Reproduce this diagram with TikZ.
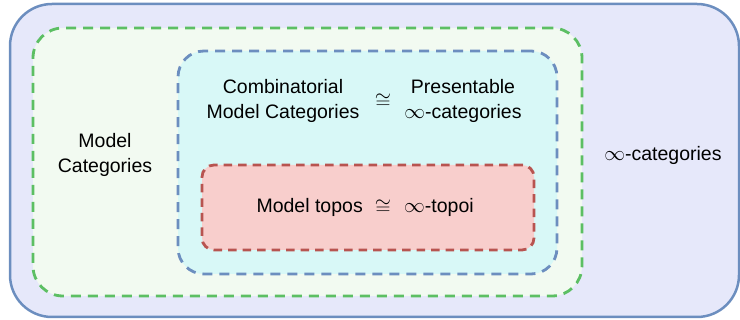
\documentclass[tikz,border=0pt]{standalone}
\usepackage{fontspec}
\setmainfont{Liberation Sans}
\definecolor{outerfill}{HTML}{E6E8FA}
\definecolor{outerline}{HTML}{6C8EBF}
\definecolor{greenfill}{HTML}{F2FAF1}
\definecolor{greenline}{HTML}{5CBF63}
\definecolor{cyanfill}{HTML}{D8F8F7}
\definecolor{blueline}{HTML}{6C8EBF}
\definecolor{redfill}{HTML}{F8CECC}
\definecolor{redline}{HTML}{B85450}
\tikzset{
  region/.style={rectangle, inner sep=0pt, outer sep=0pt},
  dashedregion/.style={region, line width=2.8pt, dash pattern=on 10pt off 7pt},
  label/.style={font=\fontsize{19.5}{25}\selectfont, align=center, inner sep=0pt}
}
\begin{document}
\begin{tikzpicture}[x=1pt,y=-1pt]
\useasboundingbox (0,0) rectangle (740,320);
% nested regions, outermost first
\node[region, draw=outerline, fill=outerfill, line width=2.5pt, rounded corners=42pt,
      minimum width=729pt, minimum height=313pt] (inf) at (374.5,160.5) {};
\node[dashedregion, draw=greenline, fill=greenfill, rounded corners=30pt,
      minimum width=549pt, minimum height=268pt] (model) at (307.5,162) {};
\node[dashedregion, draw=blueline, fill=cyanfill, rounded corners=26pt,
      minimum width=379pt, minimum height=223pt] (comb) at (367.5,162.5) {};
\node[dashedregion, draw=redline, fill=redfill, rounded corners=12pt,
      dash pattern=on 8.5pt off 6pt,
      minimum width=332pt, minimum height=85pt] (topos) at (368,207.5) {};
% labels
\node[label] (modeltxt) at (105,155) {Model\\Categories};
\node[label] (combtxt) at (283,101) {Combinatorial\\Model Categories};
\node[label] (iso1) at (383,101) {$\cong$};
\node[label] (prestxt) at (463,101) {Presentable\\$\infty$-categories};
\node[label, anchor=east] (mtopos) at (363,207) {Model topos};
\node[label] (iso2) at (383,207) {$\cong$};
\node[label, anchor=west] (itopoi) at (404,207) {$\infty$-topoi};
\node[label] (infcat) at (663,155) {$\infty$-categories};
\end{tikzpicture}
\end{document}
